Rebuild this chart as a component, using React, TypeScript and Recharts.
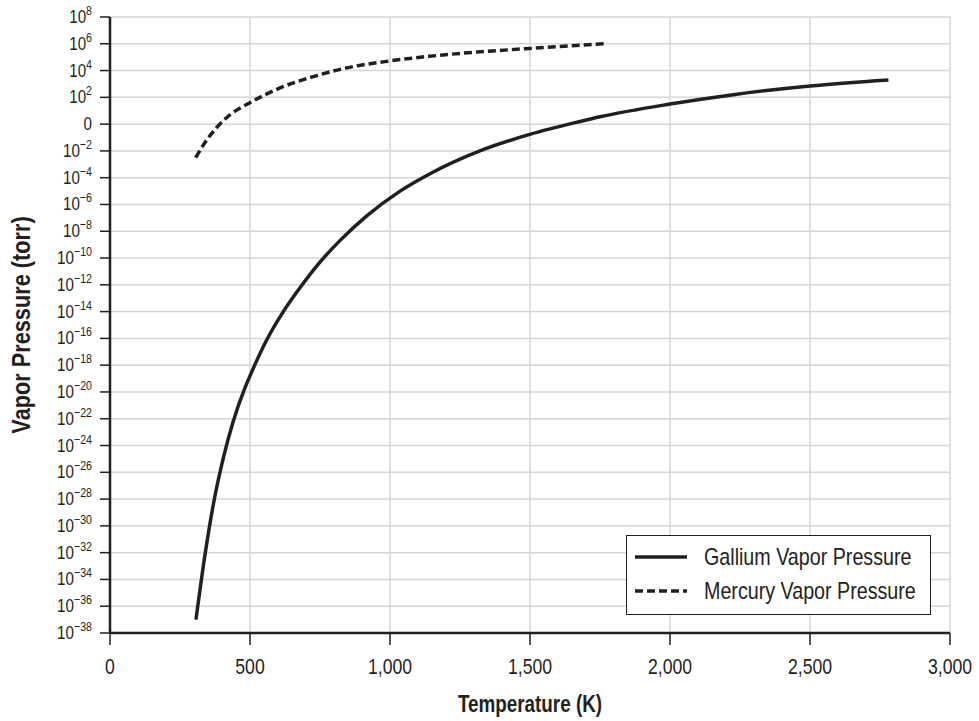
import React from 'react'
import { LineChart, Line, XAxis, YAxis, CartesianGrid } from 'recharts'

// temperatures in K, pressures as log10(torr)
const galliumT = [307, 339, 369, 405, 440, 482, 500, 560, 619, 679, 738, 821, 917, 1036, 1143, 1321, 1502, 1679, 1750, 2000, 2226, 2500, 2780]
const galliumExp = [-37.0, -32.2, -28.4, -24.9, -22.2, -19.7, -18.8, -16.1, -14.0, -12.2, -10.6, -8.7, -6.85, -5.0, -3.7, -2.0, -0.75, 0.2, 0.55, 1.5, 2.2, 2.85, 3.3]

const mercuryT = [306, 340, 381, 430, 500, 607, 726, 845, 1000, 1143, 1321, 1500, 1768]
const mercuryExp = [-2.5, -1.35, -0.25, 0.72, 1.6, 2.7, 3.55, 4.2, 4.72, 5.07, 5.4, 5.65, 6.0]

const xTicks = [0, 500, 1000, 1500, 2000, 2500, 3000]
const yTicks = [8, 6, 4, 2, 0, -2, -4, -6, -8, -10, -12, -14, -16, -18, -20, -22, -24, -26, -28, -30, -32, -34, -36, -38]

const gallium = galliumT.map((t, i) => ({ t, p: galliumExp[i] }))
const mercury = mercuryT.map((t, i) => ({ t, p: mercuryExp[i] }))

const INK = '#231f20'
const FONT = '"Liberation Sans", Arial, sans-serif'
const NARROW = 0.82 // squeeze to mimic the condensed face of the original

function PowerTick(props: any) {
  const { x, y, payload } = props
  const n = payload.value
  const label = n < 0 ? '\u2212' + Math.abs(n) : String(n)
  return (
    <g transform={`translate(${x - 6},${y + 6}) scale(${NARROW},1)`}>
      <text x={0} y={0} textAnchor="end" fill={INK} fontFamily={FONT}>
        {n === 0 ? (
          <tspan fontSize={18.5}>0</tspan>
        ) : (
          <>
            <tspan fontSize={18.5}>10</tspan>
            <tspan fontSize={13} dy={-8}>{label}</tspan>
          </>
        )}
      </text>
    </g>
  )
}

function TempTick(props: any) {
  const { x, y, payload } = props
  return (
    <g transform={`translate(${x},${y + 16}) scale(${NARROW},1)`}>
      <text x={0} y={0} textAnchor="middle" fontSize={21.5} fill={INK} fontFamily={FONT}>
        {payload.value.toLocaleString('en-US')}
      </text>
    </g>
  )
}

function XTitle(props: any) {
  const vb = props.viewBox || { x: 110, y: 633, width: 840, height: 88 }
  const cx = vb.x + vb.width / 2
  return (
    <g transform={`translate(${cx},712) scale(${NARROW},1)`}>
      <text x={0} y={0} textAnchor="middle" fontSize={23} fontWeight="bold" fill={INK} fontFamily={FONT}>Temperature (K)</text>
    </g>
  )
}

function YTitle(props: any) {
  const vb = props.viewBox || { x: 10, y: 17, width: 100, height: 616 }
  const cy = vb.y + vb.height / 2
  return (
    <g transform={`translate(30,${cy}) rotate(-90) scale(${NARROW},1)`}>
      <text x={0} y={0} textAnchor="middle" fontSize={26.5} fontWeight="bold" fill={INK} fontFamily={FONT}>Vapor Pressure (torr)</text>
    </g>
  )
}

function LegendBox() {
  const row = (top: number, dash: string | undefined, text: string) => (
    <div style={{ position: 'absolute', left: 0, top, height: 0 }}>
      <svg width={60} height={10} style={{ position: 'absolute', left: 8, top: -5 }}>
        <line x1={0} x2={52} y1={5} y2={5} stroke={INK} strokeWidth={3.5} strokeDasharray={dash} />
      </svg>
      <span style={{ position: 'absolute', left: 77, top: -14, whiteSpace: 'nowrap', lineHeight: '28px', transform: `scaleX(${NARROW})`, transformOrigin: 'left center' }}>{text}</span>
    </div>
  )
  return (
    <div style={{ position: 'absolute', left: 626, top: 535, border: '1.5px solid ' + INK, background: '#fff', width: 305, height: 80, boxSizing: 'border-box', fontFamily: FONT, fontSize: 24, color: INK }}>
      {row(21, undefined, 'Gallium Vapor Pressure')}
      {row(55, '8 4', 'Mercury Vapor Pressure')}
    </div>
  )
}

export default function App() {
  return (
    <>
      <style>{'body { margin: 0; }'}</style>
      <div style={{ position: 'relative', width: 979, height: 721, overflow: 'hidden' }}>
        <LineChart width={979} height={721} margin={{ top: 17, right: 29, bottom: 0, left: 10 }}>
          <CartesianGrid stroke="#d6d6d6" strokeWidth={1.5} vertical horizontal />
          <XAxis
            dataKey="t"
            type="number"
            domain={[0, 3000]}
            ticks={xTicks}
            tick={<TempTick />}
            tickSize={12}
            tickMargin={13}
            axisLine={{ stroke: INK, strokeWidth: 2.5 }}
            tickLine={{ stroke: INK, strokeWidth: 1.5 }}
            height={88}
            label={<XTitle />}
          />
          <XAxis xAxisId="top" orientation="top" type="number" domain={[0, 3000]} tick={false} tickLine={false} height={0} axisLine={{ stroke: INK, strokeWidth: 2.5 }} />
          <YAxis
            type="number"
            domain={[-38, 8]}
            ticks={yTicks}
            interval={0}
            tick={<PowerTick />}
            tickSize={10}
            axisLine={{ stroke: INK, strokeWidth: 2.5 }}
            tickLine={{ stroke: INK, strokeWidth: 1.5 }}
            width={100}
            label={<YTitle />}
          />
          <YAxis yAxisId="right" orientation="right" type="number" domain={[-38, 8]} tick={false} tickLine={false} width={0} axisLine={{ stroke: INK, strokeWidth: 2.5 }} />
          <Line data={gallium} dataKey="p" type="monotone" stroke={INK} strokeWidth={3.5} dot={false} isAnimationActive={false} name="Gallium Vapor Pressure" />
          <Line data={mercury} dataKey="p" type="monotone" stroke={INK} strokeWidth={3.5} strokeDasharray="8 4" dot={false} isAnimationActive={false} name="Mercury Vapor Pressure" />
        </LineChart>
        <LegendBox />
      </div>
    </>
  )
}
